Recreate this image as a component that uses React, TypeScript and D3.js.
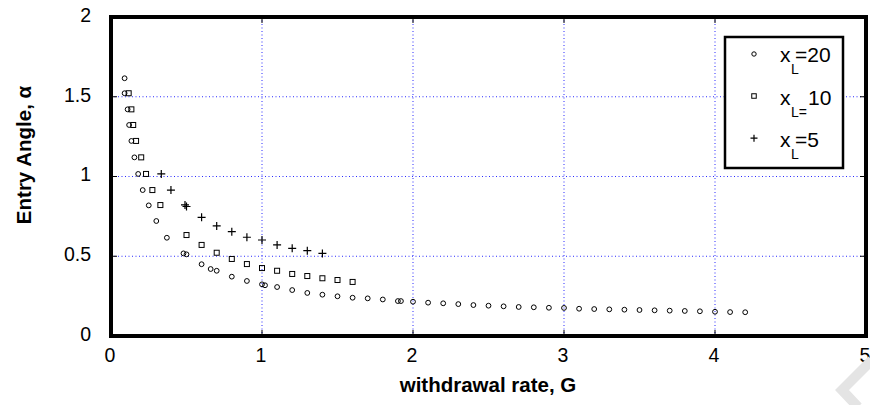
import React from 'react'
import * as d3 from 'd3'

// withdrawal rate G (x) and entry angle alpha (y) for each x_L series
const g20 = [0.09, 0.09, 0.11, 0.12, 0.135, 0.155, 0.18, 0.21, 0.25, 0.3, 0.37, 0.48,
  0.5, 0.6, 0.66, 0.7, 0.8, 0.9, 1.0, 1.02, 1.1, 1.2, 1.3, 1.4, 1.5, 1.6, 1.7, 1.8, 1.9, 1.92,
  2.0, 2.1, 2.2, 2.3, 2.4, 2.5, 2.6, 2.7, 2.8, 2.9, 3.0, 3.1, 3.2, 3.3, 3.4, 3.5, 3.6, 3.7,
  3.8, 3.9, 4.0, 4.1, 4.2]
const a20 = [1.616, 1.522, 1.421, 1.323, 1.223, 1.12, 1.016, 0.915, 0.819, 0.721, 0.616, 0.518,
  0.512, 0.45, 0.42, 0.409, 0.372, 0.345, 0.324, 0.318, 0.307, 0.288, 0.27, 0.259, 0.249, 0.24,
  0.236, 0.229, 0.219, 0.219, 0.215, 0.209, 0.205, 0.2, 0.194, 0.19, 0.186, 0.182, 0.18, 0.177,
  0.176, 0.171, 0.169, 0.167, 0.165, 0.163, 0.161, 0.159, 0.157, 0.155, 0.152, 0.15, 0.149]

const g10 = [0.117, 0.135, 0.147, 0.166, 0.2, 0.232, 0.274, 0.327, 0.5, 0.6, 0.7, 0.8, 0.9,
  1.0, 1.1, 1.2, 1.3, 1.4, 1.5, 1.6]
const a10 = [1.522, 1.421, 1.323, 1.223, 1.12, 1.016, 0.915, 0.821, 0.633, 0.571, 0.522, 0.483,
  0.451, 0.426, 0.409, 0.389, 0.376, 0.362, 0.351, 0.339]

const g5 = [0.333, 0.397, 0.49, 0.5, 0.6, 0.7, 0.8, 0.9, 1.0, 1.1, 1.2, 1.3, 1.4]
const a5 = [1.016, 0.915, 0.822, 0.812, 0.744, 0.69, 0.654, 0.619, 0.602, 0.571, 0.55, 0.535, 0.518]

const xTicks = [0, 1, 2, 3, 4, 5]
const yTicks = [0, 0.5, 1, 1.5, 2]
const legendSub = ['L', 'L=', 'L']
const legendVal = ['=20', '10', '=5']

const W = 870
const H = 405

export default function App() {
  const x = d3.scaleLinear().domain([0, 5]).range([111, 866])
  const y = d3.scaleLinear().domain([0, 2]).range([336, 17])
  const font = 'Liberation Sans, Arial, sans-serif'
  const grid = '#2a2aff'

  const circle = (cx, cy, r, k) => (
    <circle key={k} cx={cx} cy={cy} r={r} fill="none" stroke="#000" strokeWidth={1} />
  )
  const square = (cx, cy, s, k) => (
    <rect key={k} x={cx - s / 2} y={cy - s / 2} width={s} height={s} fill="none" stroke="#000" strokeWidth={1} />
  )
  const plus = (cx, cy, s, k) => (
    <path key={k} d={`M${cx - s},${cy}H${cx + s}M${cx},${cy - s}V${cy + s}`} stroke="#000" strokeWidth={1.2} />
  )

  // legend box
  const lx = 725, ly = 37, lw = 118, lh = 131
  const rows = [62, 104.5, 146.7]

  return (
    <svg width={W} height={H} style={{position: 'absolute', left: 0, top: 0}} fontFamily={font}>
      <rect width={W} height={H} fill="#fff" />
      {/* grid */}
      {xTicks.filter(t => t > 0 && t < 5).map(t => (
        <line key={'gx' + t} x1={x(t)} x2={x(t)} y1={y(2)} y2={y(0)} stroke={grid} strokeWidth={1} strokeDasharray="1,2.5" />
      ))}
      {yTicks.filter(t => t > 0 && t < 2).map(t => (
        <line key={'gy' + t} x1={x(0)} x2={x(5)} y1={y(t)} y2={y(t)} stroke={grid} strokeWidth={1} strokeDasharray="1,2.5" />
      ))}
      {/* tick marks */}
      {xTicks.filter(t => t > 0 && t < 5).map(t => (
        <g key={'tx' + t}>
          <line x1={x(t)} x2={x(t)} y1={y(0)} y2={y(0) - 6} stroke="#000" />
          <line x1={x(t)} x2={x(t)} y1={y(2)} y2={y(2) + 6} stroke="#000" />
        </g>
      ))}
      {yTicks.filter(t => t > 0 && t < 2).map(t => (
        <g key={'ty' + t}>
          <line x1={x(0)} x2={x(0) + 6} y1={y(t)} y2={y(t)} stroke="#000" />
          <line x1={x(5)} x2={x(5) - 6} y1={y(t)} y2={y(t)} stroke="#000" />
        </g>
      ))}
      {/* data */}
      {g20.map((g, i) => circle(x(g), y(a20[i]), 2.4, 'c' + i))}
      {g10.map((g, i) => square(x(g), y(a10[i]), 5, 's' + i))}
      {g5.map((g, i) => plus(x(g), y(a5[i]), 4, 'p' + i))}
      {/* frame */}
      <rect x={x(0)} y={y(2)} width={x(5) - x(0)} height={y(0) - y(2)} fill="none" stroke="#000" strokeWidth={4} />
      {/* tick labels */}
      {xTicks.map(t => (
        <text key={'lx' + t} x={x(t) - 1} y={362} textAnchor="middle" fontSize={19.5}>{t}</text>
      ))}
      {yTicks.map(t => (
        <text key={'ly' + t} x={91} y={y(t)} dy="0.25em" textAnchor="end" fontSize={19.5}>{t}</text>
      ))}
      {/* axis titles */}
      <text x={488} y={392} textAnchor="middle" fontSize={20.5} fontWeight="bold">withdrawal rate, G</text>
      <text transform={`translate(31,155) rotate(-90)`} textAnchor="middle" fontSize={20.5} fontWeight="bold">Entry Angle, α</text>
      {/* legend */}
      <rect x={lx} y={ly} width={lw} height={lh} fill="#fff" stroke="#000" strokeWidth={2.5} />
      {rows.map((ry, i) => (
        <g key={'lg' + i}>
          {i === 0 && circle(754, ry - 8, 2.2, 'lc')}
          {i === 1 && square(754, ry - 8.5, 4.5, 'ls')}
          {i === 2 && plus(754, ry - 8.5, 3.5, 'lp')}
          <text x={780} y={ry} fontSize={21}>x</text>
          <text x={791} y={ry + 12} fontSize={14}>{legendSub[i]}</text>
          <text x={i === 1 ? 808 : 795} y={ry} fontSize={21}>{legendVal[i]}</text>
        </g>
      ))}
      {/* watermark */}
      <path d="M872,360 L842,390 L858,407" fill="none" stroke="#e4e4e4" strokeWidth={10} />
    </svg>
  )
}
